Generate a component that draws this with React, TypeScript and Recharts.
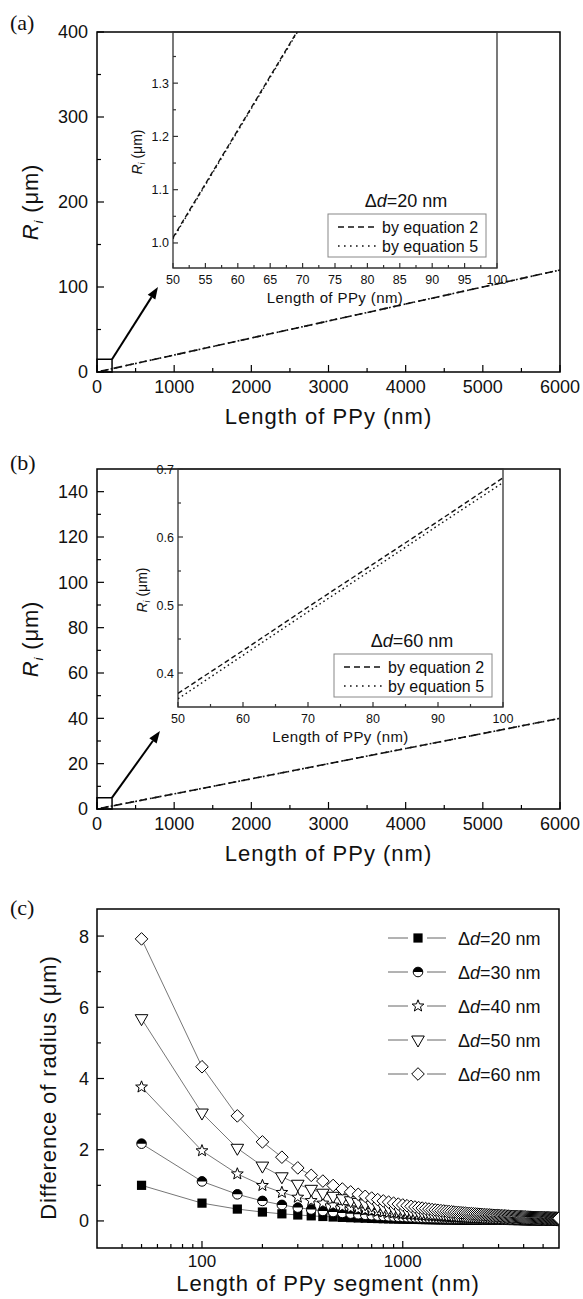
import React from 'react'
import { LineChart, Line, XAxis, YAxis, ReferenceArea, ReferenceLine, Legend } from 'recharts'

const FONT = '"Liberation Sans", Arial, Helvetica, sans-serif'

// ---- panels (a) / (b): main plots ----
const mainX = [50, 1000, 2000, 3000, 4000, 5000, 6000]
const aEq2 = [1.01, 20.0, 40.0, 60.0, 80.0, 100.0, 120.0]
const aEq5 = [1.0, 20.0, 40.0, 60.0, 80.0, 100.0, 120.0]
const bEq2 = [0.37, 6.7, 13.3, 20.0, 26.7, 33.3, 40.0]
const bEq5 = [0.36, 6.7, 13.3, 20.0, 26.7, 33.3, 40.0]

const mainXTicks = [0, 1000, 2000, 3000, 4000, 5000, 6000]
const mainXMinor = [500, 1500, 2500, 3500, 4500, 5500]
const aYTicks = [0, 100, 200, 300, 400]
const aYMinor = [50, 150, 250, 350]
const bYTicks = [0, 20, 40, 60, 80, 100, 120, 140]
const bYMinor = [10, 30, 50, 70, 90, 110, 130]

// ---- insets ----
const insetX = [50, 60, 70, 80, 90, 100]
const aInEq2 = [1.01, 1.212, 1.414, 1.616, 1.818, 2.02]
const aInEq5 = [1.008, 1.21, 1.412, 1.614, 1.816, 2.018]
const bInEq2 = [0.37, 0.433, 0.497, 0.56, 0.623, 0.687]
const bInEq5 = [0.362, 0.426, 0.49, 0.553, 0.617, 0.68]

const aInXTicks = [50, 55, 60, 65, 70, 75, 80, 85, 90, 95, 100]
const aInXMinor = [52.5, 57.5, 62.5, 67.5, 72.5, 77.5, 82.5, 87.5, 92.5, 97.5]
const aInYTicks = [1.0, 1.1, 1.2, 1.3]
const aInYMinor = [1.05, 1.15, 1.25, 1.35]
const bInXTicks = [50, 60, 70, 80, 90, 100]
const bInXMinor = [55, 65, 75, 85, 95]
const bInYTicks = [0.4, 0.5, 0.6, 0.7]
const bInYMinor = [0.45, 0.55, 0.65]

// ---- panel (c): difference of radius ----
const cX = [
  50, 100, 150, 200, 250, 300, 350, 400, 450, 500, 550, 600, 650, 700, 750, 800, 850, 900, 950, 1000,
  1050, 1100, 1150, 1200, 1250, 1300, 1350, 1400, 1450, 1500, 1550, 1600, 1650, 1700, 1750, 1800, 1850, 1900, 1950, 2000,
  2050, 2100, 2150, 2200, 2250, 2300, 2350, 2400, 2450, 2500, 2550, 2600, 2650, 2700, 2750, 2800, 2850, 2900, 2950, 3000,
  3050, 3100, 3150, 3200, 3250, 3300, 3350, 3400, 3450, 3500, 3550, 3600, 3650, 3700, 3750, 3800, 3850, 3900, 3950, 4000,
  4050, 4100, 4150, 4200, 4250, 4300, 4350, 4400, 4450, 4500, 4550, 4600, 4650, 4700, 4750, 4800, 4850, 4900, 4950, 5000,
  5050, 5100, 5150, 5200, 5250, 5300, 5350, 5400, 5450, 5500, 5550, 5600, 5650, 5700, 5750, 5800, 5850, 5900, 5950, 6000,
]
const d20 = [
  1.0, 0.5, 0.333, 0.25, 0.2, 0.167, 0.143, 0.125, 0.111, 0.1, 0.091, 0.083, 0.077, 0.071, 0.067, 0.063, 0.059, 0.056, 0.053, 0.05,
  0.048, 0.045, 0.043, 0.042, 0.04, 0.038, 0.037, 0.036, 0.034, 0.033, 0.032, 0.031, 0.03, 0.029, 0.029, 0.028, 0.027, 0.026, 0.026, 0.025,
  0.024, 0.024, 0.023, 0.023, 0.022, 0.022, 0.021, 0.021, 0.02, 0.02, 0.02, 0.019, 0.019, 0.019, 0.018, 0.018, 0.018, 0.017, 0.017, 0.017,
  0.016, 0.016, 0.016, 0.016, 0.015, 0.015, 0.015, 0.015, 0.014, 0.014, 0.014, 0.014, 0.014, 0.014, 0.013, 0.013, 0.013, 0.013, 0.013, 0.013,
  0.012, 0.012, 0.012, 0.012, 0.012, 0.012, 0.011, 0.011, 0.011, 0.011, 0.011, 0.011, 0.011, 0.011, 0.011, 0.01, 0.01, 0.01, 0.01, 0.01,
  0.01, 0.01, 0.01, 0.01, 0.01, 0.009, 0.009, 0.009, 0.009, 0.009, 0.009, 0.009, 0.009, 0.009, 0.009, 0.009, 0.009, 0.008, 0.008, 0.008,
]
const d30 = [
  2.17, 1.11, 0.748, 0.562, 0.45, 0.375, 0.321, 0.281, 0.25, 0.225, 0.205, 0.188, 0.173, 0.161, 0.15, 0.141, 0.132, 0.125, 0.118, 0.113,
  0.107, 0.102, 0.098, 0.094, 0.09, 0.087, 0.083, 0.08, 0.078, 0.075, 0.073, 0.07, 0.068, 0.066, 0.064, 0.063, 0.061, 0.059, 0.058, 0.056,
  0.055, 0.054, 0.052, 0.051, 0.05, 0.049, 0.048, 0.047, 0.046, 0.045, 0.044, 0.043, 0.042, 0.042, 0.041, 0.04, 0.039, 0.039, 0.038, 0.038,
  0.037, 0.036, 0.036, 0.035, 0.035, 0.034, 0.034, 0.033, 0.033, 0.032, 0.032, 0.031, 0.031, 0.03, 0.03, 0.03, 0.029, 0.029, 0.028, 0.028,
  0.028, 0.027, 0.027, 0.027, 0.026, 0.026, 0.026, 0.026, 0.025, 0.025, 0.025, 0.024, 0.024, 0.024, 0.024, 0.023, 0.023, 0.023, 0.023, 0.023,
  0.022, 0.022, 0.022, 0.022, 0.021, 0.021, 0.021, 0.021, 0.021, 0.02, 0.02, 0.02, 0.02, 0.02, 0.02, 0.019, 0.019, 0.019, 0.019, 0.019,
]
const d40 = [
  3.76, 1.97, 1.32, 0.995, 0.8, 0.666, 0.571, 0.5, 0.444, 0.4, 0.364, 0.333, 0.308, 0.286, 0.267, 0.25, 0.235, 0.222, 0.211, 0.2,
  0.19, 0.182, 0.174, 0.167, 0.16, 0.154, 0.148, 0.143, 0.138, 0.133, 0.129, 0.125, 0.121, 0.118, 0.114, 0.111, 0.108, 0.105, 0.103, 0.1,
  0.098, 0.095, 0.093, 0.091, 0.089, 0.087, 0.085, 0.083, 0.082, 0.08, 0.078, 0.077, 0.075, 0.074, 0.073, 0.071, 0.07, 0.069, 0.068, 0.067,
  0.066, 0.065, 0.063, 0.063, 0.062, 0.061, 0.06, 0.059, 0.058, 0.057, 0.056, 0.056, 0.055, 0.054, 0.053, 0.053, 0.052, 0.051, 0.051, 0.05,
  0.049, 0.049, 0.048, 0.048, 0.047, 0.047, 0.046, 0.045, 0.045, 0.044, 0.044, 0.043, 0.043, 0.043, 0.042, 0.042, 0.041, 0.041, 0.04, 0.04,
  0.04, 0.039, 0.039, 0.038, 0.038, 0.038, 0.037, 0.037, 0.037, 0.036, 0.036, 0.036, 0.035, 0.035, 0.035, 0.034, 0.034, 0.034, 0.034, 0.033,
]
const d50 = [
  5.68, 3.03, 2.04, 1.54, 1.24, 1.03, 0.888, 0.778, 0.692, 0.624, 0.567, 0.52, 0.48, 0.446, 0.416, 0.39, 0.367, 0.347, 0.329, 0.312,
  0.298, 0.284, 0.272, 0.26, 0.25, 0.24, 0.231, 0.223, 0.216, 0.208, 0.202, 0.195, 0.189, 0.184, 0.179, 0.174, 0.169, 0.164, 0.16, 0.156,
  0.153, 0.149, 0.145, 0.142, 0.139, 0.136, 0.133, 0.13, 0.128, 0.125, 0.123, 0.12, 0.118, 0.116, 0.114, 0.112, 0.11, 0.108, 0.106, 0.104,
  0.102, 0.101, 0.099, 0.098, 0.096, 0.095, 0.093, 0.092, 0.091, 0.089, 0.088, 0.087, 0.086, 0.084, 0.083, 0.082, 0.081, 0.08, 0.079, 0.078,
  0.077, 0.076, 0.075, 0.074, 0.074, 0.073, 0.072, 0.071, 0.07, 0.069, 0.069, 0.068, 0.067, 0.066, 0.066, 0.065, 0.064, 0.064, 0.063, 0.062,
  0.062, 0.061, 0.061, 0.06, 0.059, 0.059, 0.058, 0.058, 0.057, 0.057, 0.056, 0.056, 0.055, 0.055, 0.054, 0.054, 0.053, 0.053, 0.052, 0.052,
]
const d60 = [
  7.92, 4.33, 2.95, 2.22, 1.79, 1.49, 1.28, 1.12, 0.996, 0.897, 0.816, 0.748, 0.691, 0.642, 0.599, 0.562, 0.529, 0.499, 0.473, 0.449,
  0.428, 0.409, 0.391, 0.375, 0.36, 0.346, 0.333, 0.321, 0.31, 0.3, 0.29, 0.281, 0.273, 0.265, 0.257, 0.25, 0.243, 0.237, 0.231, 0.225,
  0.22, 0.214, 0.209, 0.205, 0.2, 0.196, 0.192, 0.188, 0.184, 0.18, 0.176, 0.173, 0.17, 0.167, 0.164, 0.161, 0.158, 0.155, 0.153, 0.15,
  0.148, 0.145, 0.143, 0.141, 0.139, 0.136, 0.134, 0.132, 0.13, 0.129, 0.127, 0.125, 0.123, 0.122, 0.12, 0.118, 0.117, 0.115, 0.114, 0.112,
  0.111, 0.11, 0.108, 0.107, 0.106, 0.105, 0.103, 0.102, 0.101, 0.1, 0.099, 0.098, 0.097, 0.096, 0.095, 0.094, 0.093, 0.092, 0.091, 0.09,
  0.089, 0.088, 0.087, 0.087, 0.086, 0.085, 0.084, 0.083, 0.083, 0.082, 0.081, 0.08, 0.08, 0.079, 0.078, 0.077, 0.077, 0.076, 0.076, 0.075,
]
const ddValues = [20, 30, 40, 50, 60]
const cXTicks = [100, 1000]
const cXMinor = [40, 50, 60, 70, 80, 90, 200, 300, 400, 500, 600, 700, 800, 900, 2000, 3000, 4000, 5000]
const cYTicks = [0, 2, 4, 6, 8]
const cYMinor = [1, 3, 5, 7]

const cSeries = [
  { key: 'd20', values: d20, marker: 'square' },
  { key: 'd30', values: d30, marker: 'half' },
  { key: 'd40', values: d40, marker: 'star' },
  { key: 'd50', values: d50, marker: 'tri' },
  { key: 'd60', values: d60, marker: 'diamond' },
]

const mainRows = (eq2: number[], eq5: number[]) => mainX.map((x, i) => ({ x, eq2: eq2[i], eq5: eq5[i] }))
const insetRows = (eq2: number[], eq5: number[]) => insetX.map((x, i) => ({ x, eq2: eq2[i], eq5: eq5[i] }))
const cRows = cX.map((x, i) => {
  const row: Record<string, number> = { x }
  cSeries.forEach((s) => { row[s.key] = s.values[i] })
  return row
})

const merge = (a: number[], b: number[]) => [...a, ...b].sort((p, q) => p - q)

// ---- ticks drawn inward, labels only on major ticks ----
type TickOpt = {
  side: 'left' | 'bottom'
  major: number[]
  digits: number
  size: number
  majorLen: number
  minorLen: number
  gap: number
  color: string
}

function tickRenderer(o: TickOpt) {
  return (props: any) => {
    const { x, y, payload } = props
    const v = payload.value as number
    const isMajor = o.major.some((m) => Math.abs(m - v) < 1e-9)
    const len = isMajor ? o.majorLen : o.minorLen
    const label = v.toFixed(o.digits)
    if (o.side === 'left') {
      return (
        <g>
          <line x1={x} y1={y} x2={x + len} y2={y} stroke={o.color} strokeWidth={1.2} />
          {isMajor && (
            <text x={x - o.gap} y={y} dy={o.size * 0.36} textAnchor="end" fontSize={o.size} fontFamily={FONT} fill="#111">
              {label}
            </text>
          )}
        </g>
      )
    }
    return (
      <g>
        <line x1={x} y1={y} x2={x} y2={y - len} stroke={o.color} strokeWidth={1.2} />
        {isMajor && (
          <text x={x} y={y + o.gap} dy={o.size * 0.36} textAnchor="middle" fontSize={o.size} fontFamily={FONT} fill="#111">
            {label}
          </text>
        )}
      </g>
    )
  }
}

function yTitle(fromAxis: number, shift: number, size: number, content: React.ReactNode, spacing = 0) {
  return (props: any) => {
    const vb = props.viewBox || { x: 0, y: 0, width: 0, height: 0 }
    const cx = vb.x + vb.width - fromAxis
    const cy = vb.y + vb.height / 2 + shift
    return (
      <text
        x={cx}
        y={cy}
        dy={size * 0.36}
        transform={`rotate(-90 ${cx} ${cy})`}
        textAnchor="middle"
        fontSize={size}
        fontFamily={FONT}
        letterSpacing={spacing}
        fill="#111"
      >
        {content}
      </text>
    )
  }
}

function xTitle(offset: number, size: number, text: string, spacing = 0) {
  return (props: any) => {
    const vb = props.viewBox || { x: 0, y: 0, width: 0, height: 0 }
    return (
      <text
        x={vb.x + vb.width / 2}
        y={vb.y + offset}
        dy={size * 0.36}
        textAnchor="middle"
        fontSize={size}
        fontFamily={FONT}
        letterSpacing={spacing}
        fill="#111"
      >
        {text}
      </text>
    )
  }
}

const riLabel = (size: number) => (
  <>
    <tspan fontStyle="italic">R</tspan>
    <tspan fontStyle="italic" fontSize={size * 0.62} dy={size * 0.24}>i</tspan>
    <tspan dy={-size * 0.24}> (μm)</tspan>
  </>
)

const ArrowShape = (p: any) => {
  const { x1, y1, x2, y2 } = p
  const ang = Math.atan2(y2 - y1, x2 - x1)
  const hl = 12
  const hw = 4.5
  const bx = x2 - hl * Math.cos(ang)
  const by = y2 - hl * Math.sin(ang)
  const nx = -Math.sin(ang) * hw
  const ny = Math.cos(ang) * hw
  return (
    <g>
      <line x1={x1} y1={y1} x2={bx} y2={by} stroke="#000" strokeWidth={2} />
      <polygon points={`${x2},${y2} ${bx + nx},${by + ny} ${bx - nx},${by - ny}`} fill="#000" />
    </g>
  )
}

function Marker({ kind, cx, cy }: { kind: string; cx: number; cy: number }) {
  if (cx == null || cy == null) return null
  const st = { fill: '#fff', stroke: '#000', strokeWidth: 1 }
  if (kind === 'square') return <rect x={cx - 4.6} y={cy - 4.6} width={9.2} height={9.2} fill="#000" />
  if (kind === 'half') {
    const r = 4.8
    return (
      <g>
        <circle cx={cx} cy={cy} r={r} {...st} />
        <path d={`M${cx - r},${cy} A${r},${r} 0 0 1 ${cx + r},${cy} Z`} fill="#000" />
      </g>
    )
  }
  if (kind === 'star') {
    const pts: string[] = []
    for (let k = 0; k < 10; k++) {
      const rr = k % 2 === 0 ? 6.2 : 2.6
      const a = -Math.PI / 2 + (k * Math.PI) / 5
      pts.push(`${cx + rr * Math.cos(a)},${cy + rr * Math.sin(a)}`)
    }
    return <polygon points={pts.join(' ')} {...st} />
  }
  if (kind === 'tri') {
    return <polygon points={`${cx - 6.3},${cy - 4} ${cx + 6.3},${cy - 4} ${cx},${cy + 7}`} {...st} />
  }
  return <polygon points={`${cx},${cy - 6.3} ${cx + 6.3},${cy} ${cx},${cy + 6.3} ${cx - 6.3},${cy}`} {...st} />
}

// ---- legends ----
function EqLegend({ dd }: { dd: number }) {
  return (
    <svg width={180} height={80} style={{ overflow: 'visible' }}>
      <text x={88} y={20} dy={6.5} textAnchor="middle" fontSize={18} fontFamily={FONT} fill="#111">
        Δ<tspan fontStyle="italic">d</tspan>={dd} nm
      </text>
      <rect x={10} y={34} width={158} height={43} fill="#fff" stroke="#888" strokeWidth={1} />
      <line x1={20} x2={60} y1={47} y2={47} stroke="#111" strokeWidth={1.4} strokeDasharray="6 4" />
      <text x={64} y={47} dy={5.8} fontSize={16} fontFamily={FONT} fill="#111">by equation 2</text>
      <line x1={20} x2={60} y1={66} y2={66} stroke="#111" strokeWidth={1.4} strokeDasharray="1.6 4.4" />
      <text x={64} y={66} dy={5.8} fontSize={16} fontFamily={FONT} fill="#111">by equation 5</text>
    </svg>
  )
}

function DiffLegend() {
  return (
    <svg width={180} height={170}>
      {cSeries.map((s, i) => {
        const y = 18 + i * 34
        return (
          <g key={s.key}>
            <line x1={8} x2={28} y1={y} y2={y} stroke="#666" strokeWidth={1} />
            <line x1={47} x2={66} y1={y} y2={y} stroke="#666" strokeWidth={1} />
            <Marker kind={s.marker} cx={38} cy={y} />
            <text x={78} y={y} dy={6.5} fontSize={18} fontFamily={FONT} fill="#111">
              Δ<tspan fontStyle="italic">d</tspan>={ddValues[i]} nm
            </text>
          </g>
        )
      })}
    </svg>
  )
}

// ---- panels ----
type MainProps = {
  top: number
  height: number
  mTop: number
  mBottom: number
  xAxisH: number
  yMax: number
  yTicks: number[]
  yMinor: number[]
  eq2: number[]
  eq5: number[]
  boxY: number
  tip: { x: number; y: number }
}

function MainPanel(p: MainProps) {
  const data = mainRows(p.eq2, p.eq5)
  return (
    <div style={{ position: 'absolute', left: 0, top: p.top }}>
      <LineChart width={583} height={p.height} data={data} margin={{ top: p.mTop, right: 23, left: 0, bottom: p.mBottom }}>
        <XAxis
          dataKey="x"
          type="number"
          domain={[0, 6000]}
          allowDataOverflow
          ticks={merge(mainXTicks, mainXMinor)}
          interval={0}
          tickSize={0}
          tickMargin={0}
          axisLine={false}
          tickLine={false}
          height={p.xAxisH}
          tick={tickRenderer({ side: 'bottom', major: mainXTicks, digits: 0, size: 18, majorLen: 7, minorLen: 4, gap: 15, color: '#000' })}
          label={{ content: xTitle(44, 22, 'Length of PPy (nm)', 1) }}
        />
        <YAxis
          type="number"
          domain={[0, p.yMax]}
          allowDataOverflow
          ticks={merge(p.yTicks, p.yMinor)}
          interval={0}
          tickSize={0}
          tickMargin={0}
          axisLine={false}
          tickLine={false}
          width={97}
          tick={tickRenderer({ side: 'left', major: p.yTicks, digits: 0, size: 18, majorLen: 7, minorLen: 4, gap: 9, color: '#000' })}
          label={{ content: yTitle(67, 0, 22, riLabel(22), 0.8) }}
        />
        <ReferenceArea x1={0} x2={6000} y1={0} y2={p.yMax} fill="none" stroke="#000" strokeWidth={1.5} />
        <Line dataKey="eq2" type="linear" stroke="#111" strokeWidth={1.6} strokeDasharray="8 5" dot={false} activeDot={false} isAnimationActive={false} />
        <Line dataKey="eq5" type="linear" stroke="#111" strokeWidth={1.6} strokeDasharray="1.8 3.2" dot={false} activeDot={false} isAnimationActive={false} />
        <ReferenceArea x1={0} x2={195} y1={0} y2={p.boxY} fill="none" stroke="#000" strokeWidth={1.5} />
        <ReferenceLine segment={[{ x: 195, y: p.boxY }, p.tip]} shape={ArrowShape} />
      </LineChart>
    </div>
  )
}

type InsetProps = {
  top: number
  mTop: number
  mRight: number
  mBottom: number
  yAxisW: number
  yDomain: [number, number]
  xTicks: number[]
  xMinor: number[]
  yTicks: number[]
  yMinor: number[]
  eq2: number[]
  eq5: number[]
  dd: number
  legendLeft: number
}

function InsetPanel(p: InsetProps) {
  const data = insetRows(p.eq2, p.eq5)
  return (
    <div style={{ position: 'absolute', left: 100, top: p.top }}>
      <LineChart width={420} height={320} data={data} margin={{ top: p.mTop, right: p.mRight, left: 0, bottom: p.mBottom }}>
        <XAxis
          dataKey="x"
          type="number"
          domain={[50, 100]}
          allowDataOverflow
          ticks={merge(p.xTicks, p.xMinor)}
          interval={0}
          tickSize={0}
          tickMargin={0}
          axisLine={false}
          tickLine={false}
          height={40}
          tick={tickRenderer({ side: 'bottom', major: p.xTicks, digits: 0, size: 12.5, majorLen: 5, minorLen: 3, gap: 11, color: '#333' })}
          label={{ content: xTitle(30, 15, 'Length of PPy (nm)', 0.4) }}
        />
        <YAxis
          type="number"
          domain={p.yDomain}
          allowDataOverflow
          ticks={merge(p.yTicks, p.yMinor)}
          interval={0}
          tickSize={0}
          tickMargin={0}
          axisLine={false}
          tickLine={false}
          width={p.yAxisW}
          tick={tickRenderer({ side: 'left', major: p.yTicks, digits: 1, size: 12.5, majorLen: 5, minorLen: 3, gap: 4, color: '#333' })}
          label={{ content: yTitle(36, 2, 14, riLabel(14)) }}
        />
        <ReferenceArea x1={50} x2={100} y1={p.yDomain[0]} y2={p.yDomain[1]} fill="none" stroke="#333" strokeWidth={1.3} />
        <Line dataKey="eq2" type="linear" stroke="#111" strokeWidth={1.4} strokeDasharray="5 3" dot={false} activeDot={false} isAnimationActive={false} />
        <Line dataKey="eq5" type="linear" stroke="#111" strokeWidth={1.4} strokeDasharray="1.6 3" dot={false} activeDot={false} isAnimationActive={false} />
        <Legend
          layout="vertical"
          align="center"
          verticalAlign="middle"
          content={() => <EqLegend dd={p.dd} />}
          wrapperStyle={{ left: p.legendLeft, top: 180, width: 180, height: 80 }}
        />
      </LineChart>
    </div>
  )
}

function DiffPanel() {
  return (
    <div style={{ position: 'absolute', left: 0, top: 860 }}>
      <LineChart width={583} height={439} data={cRows} margin={{ top: 49, right: 24, left: 0, bottom: 6 }}>
        <XAxis
          dataKey="x"
          type="number"
          scale="log"
          domain={[30, 6000]}
          allowDataOverflow
          ticks={merge(cXTicks, cXMinor)}
          interval={0}
          tickSize={0}
          tickMargin={0}
          axisLine={false}
          tickLine={false}
          height={45}
          tick={tickRenderer({ side: 'bottom', major: cXTicks, digits: 0, size: 17, majorLen: 7, minorLen: 4, gap: 13, color: '#000' })}
          label={{ content: xTitle(35, 22, 'Length of PPy segment (nm)', 0.9) }}
        />
        <YAxis
          type="number"
          domain={[-0.76, 8.76]}
          allowDataOverflow
          ticks={merge(cYTicks, cYMinor)}
          interval={0}
          tickSize={0}
          tickMargin={0}
          axisLine={false}
          tickLine={false}
          width={97}
          tick={tickRenderer({ side: 'left', major: cYTicks, digits: 0, size: 18, majorLen: 7, minorLen: 4, gap: 8, color: '#000' })}
          label={{ content: yTitle(49, 9, 22, 'Difference of radius (μm)', 0.9) }}
        />
        <ReferenceArea x1={30} x2={6000} y1={-0.76} y2={8.76} fill="none" stroke="#000" strokeWidth={1.5} />
        {cSeries.map((s) => (
          <Line
            key={s.key}
            dataKey={s.key}
            type="linear"
            stroke="#666"
            strokeWidth={0.9}
            dot={(d: any) => <Marker key={`${s.key}-${d.index}`} kind={s.marker} cx={d.cx} cy={d.cy} />}
            activeDot={false}
            isAnimationActive={false}
          />
        ))}
        <Legend
          layout="vertical"
          align="center"
          verticalAlign="middle"
          content={() => <DiffLegend />}
          wrapperStyle={{ left: 380, top: 60, width: 180, height: 170 }}
        />
      </LineChart>
    </div>
  )
}

function PanelLabel({ text, top }: { text: string; top: number }) {
  return (
    <div
      style={{
        position: 'absolute',
        left: 10,
        top,
        fontFamily: '"Liberation Serif", "Times New Roman", serif',
        fontSize: 22,
        lineHeight: '22px',
        color: '#111',
      }}
    >
      {text}
    </div>
  )
}

export default function App() {
  return (
    <div style={{ position: 'absolute', left: 0, top: 0, width: 583, height: 1299, background: '#fff', overflow: 'hidden' }}>
      <MainPanel
        top={0}
        height={440}
        mTop={32}
        mBottom={8}
        xAxisH={60}
        yMax={400}
        yTicks={aYTicks}
        yMinor={aYMinor}
        eq2={aEq2}
        eq5={aEq5}
        boxY={15}
        tip={{ x: 790, y: 100 }}
      />
      <InsetPanel
        top={0}
        mTop={32}
        mRight={23}
        mBottom={12}
        yAxisW={73}
        yDomain={[0.953, 1.396]}
        xTicks={aInXTicks}
        xMinor={aInXMinor}
        yTicks={aInYTicks}
        yMinor={aInYMinor}
        eq2={aInEq2}
        eq5={aInEq5}
        dd={20}
        legendLeft={218}
      />
      <MainPanel
        top={440}
        height={430}
        mTop={29}
        mBottom={6}
        xAxisH={55}
        yMax={150}
        yTicks={bYTicks}
        yMinor={bYMinor}
        eq2={bEq2}
        eq5={bEq5}
        boxY={5}
        tip={{ x: 816, y: 34.4 }}
      />
      <InsetPanel
        top={440}
        mTop={29}
        mRight={17}
        mBottom={13}
        yAxisW={78}
        yDomain={[0.35, 0.7]}
        xTicks={bInXTicks}
        xMinor={bInXMinor}
        yTicks={bInYTicks}
        yMinor={bInYMinor}
        eq2={bInEq2}
        eq5={bInEq5}
        dd={60}
        legendLeft={224}
      />
      <DiffPanel />
      <PanelLabel text="(a)" top={12} />
      <PanelLabel text="(b)" top={452} />
      <PanelLabel text="(c)" top={897} />
    </div>
  )
}
